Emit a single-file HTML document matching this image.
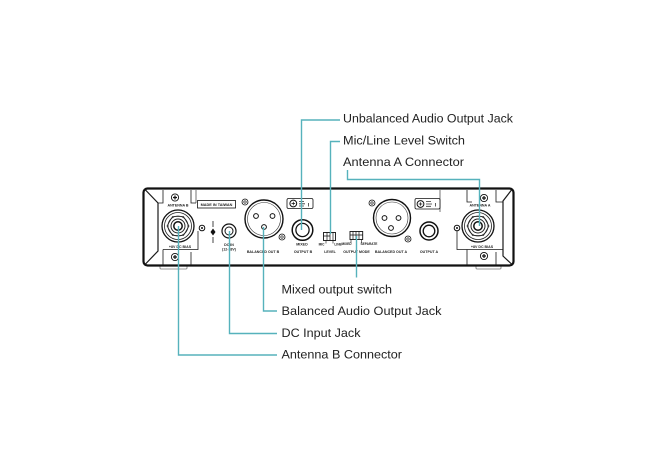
<!DOCTYPE html>
<html><head><meta charset="utf-8"><style>
html,body{margin:0;padding:0;background:#fff;}
svg{display:block;}
.t{font-family:"Liberation Sans",Arial,sans-serif;font-size:12.3px;fill:#222;}
.s{font-family:"Liberation Sans",Arial,sans-serif;font-size:3.6px;font-weight:bold;fill:#222;text-anchor:middle;}
.ld{fill:none;stroke:#56b2bc;stroke-width:1.4;}
.k{fill:none;stroke:#1a1a1a;}
</style></head><body>
<svg width="670" height="453" viewBox="0 0 670 453" xmlns="http://www.w3.org/2000/svg">
<rect width="670" height="453" fill="#fff"/>

<!-- feet -->
<rect x="160" y="265" width="27" height="4" rx="1" fill="#fff" stroke="#777" stroke-width="0.8"/>
<rect x="476" y="265" width="25" height="4" rx="1" fill="#fff" stroke="#777" stroke-width="0.8"/>

<!-- body -->
<rect x="143.5" y="188.5" width="370" height="77" rx="4" fill="#fff" stroke="#111" stroke-width="2.2"/>
<!-- end caps -->
<polyline class="k" stroke-width="1.2" points="145.5,190 158,203 158,251 145.5,264"/>
<polyline class="k" stroke-width="1.2" points="511.5,190 503,201 503,256 511.5,264"/>

<!-- left antenna bracket -->
<path class="k" stroke-width="0.8" d="M158,203 H163 V190 M191,190 V203 H196 M163,249.5 V265 M191,252 V265 M163,249.5 H198 V231"/>
<!-- right antenna bracket -->
<path class="k" stroke-width="0.8" d="M467,190 V202 H472 M496,190 V202 H503 M457,231 V249.5 H503 M467,249.5 V265 M496,252 V265"/>
<!-- middle panel faint lines -->
<path class="k" stroke-width="0.6" stroke="#555" d="M196,203 V190 M440,212 V190"/>

<!-- antenna B -->
<g transform="translate(178,226)">
<circle r="16" fill="#fff" stroke="#111" stroke-width="1.3"/>
<circle r="13.5" fill="none" stroke="#222" stroke-width="0.8"/>
<polygon points="11,0 5.5,9.5 -5.5,9.5 -11,0 -5.5,-9.5 5.5,-9.5" fill="none" stroke="#333" stroke-width="0.8"/>
<circle r="10" fill="none" stroke="#222" stroke-width="0.8"/>
<circle r="7" fill="none" stroke="#222" stroke-width="1"/>
<circle r="4.2" fill="#fff" stroke="#111" stroke-width="1.5"/>
</g>
<!-- antenna A -->
<g transform="translate(478,226)">
<circle r="16" fill="#fff" stroke="#111" stroke-width="1.3"/>
<circle r="13.5" fill="none" stroke="#222" stroke-width="0.8"/>
<polygon points="11,0 5.5,9.5 -5.5,9.5 -11,0 -5.5,-9.5 5.5,-9.5" fill="none" stroke="#333" stroke-width="0.8"/>
<circle r="10" fill="none" stroke="#222" stroke-width="0.8"/>
<circle r="7" fill="none" stroke="#222" stroke-width="1"/>
<circle r="4.2" fill="#fff" stroke="#111" stroke-width="1.5"/>
</g>

<!-- screws -->
<g stroke="#111" fill="#fff">
<g transform="translate(175,197.5)"><circle r="3.6" stroke-width="0.9"/><path d="M-2,0H2M0,-2V2" stroke-width="1.2"/></g>
<g transform="translate(175,257)"><circle r="3.6" stroke-width="0.9"/><path d="M-2,0H2M0,-2V2" stroke-width="1.2"/></g>
<g transform="translate(484,198)"><circle r="3.6" stroke-width="0.9"/><path d="M-2,0H2M0,-2V2" stroke-width="1.2"/></g>
<g transform="translate(484,256)"><circle r="3.6" stroke-width="0.9"/><path d="M-2,0H2M0,-2V2" stroke-width="1.2"/></g>
<g transform="translate(245,202)"><circle r="3" stroke-width="0.8"/><circle r="1.2" stroke-width="0.7"/></g>
<g transform="translate(282,237)"><circle r="3" stroke-width="0.8"/><circle r="1.2" stroke-width="0.7"/></g>
<g transform="translate(372,203)"><circle r="3" stroke-width="0.8"/><circle r="1.2" stroke-width="0.7"/></g>
<g transform="translate(408,239)"><circle r="3" stroke-width="0.8"/><circle r="1.2" stroke-width="0.7"/></g>
</g>

<!-- small jacks near antennas -->
<circle cx="202" cy="228" r="2.8" fill="#fff" stroke="#111" stroke-width="1"/>
<circle cx="202" cy="228" r="1" fill="#111"/>
<circle cx="457" cy="228" r="2.8" fill="#fff" stroke="#111" stroke-width="1"/>
<circle cx="457" cy="228" r="1" fill="#111"/>

<!-- indicator -->
<path class="k" stroke-width="0.8" d="M213,221 V227 M213,237 V243"/>
<path d="M213,228.5 L215.5,232 L213,235.5 L210.5,232 Z" fill="#111"/>

<!-- MADE IN TAIWAN -->
<rect x="197.5" y="200.5" width="38" height="7.5" fill="#fff" stroke="#111" stroke-width="0.8"/>
<text class="s" x="216.5" y="205.8" style="font-size:3.8px">MADE IN TAIWAN</text>

<!-- DC IN -->
<circle cx="229" cy="231" r="7" fill="#fff" stroke="#111" stroke-width="1.2"/>
<circle cx="229" cy="231" r="4" fill="#fff" stroke="#111" stroke-width="1"/>
<text class="s" x="229" y="246">DC IN</text>
<text class="s" x="229" y="250.5">(12-18V)</text>

<!-- XLR B -->
<circle cx="264" cy="219" r="19" fill="#fff" stroke="#111" stroke-width="1.4"/>
<circle cx="264" cy="219" r="16.5" fill="none" stroke="#333" stroke-width="0.6"/>
<circle cx="256" cy="216" r="2.4" fill="#fff" stroke="#111" stroke-width="1"/>
<circle cx="272.5" cy="216" r="2.4" fill="#fff" stroke="#111" stroke-width="1"/>
<circle cx="264" cy="227" r="2.4" fill="#fff" stroke="#111" stroke-width="1"/>
<text class="s" x="263" y="253">BALANCED OUT B</text>

<!-- knob box B -->
<rect x="287" y="198.5" width="26" height="10" rx="1.5" fill="#fff" stroke="#111" stroke-width="0.8"/>
<circle cx="293.3" cy="203.5" r="3.4" fill="#fff" stroke="#111" stroke-width="1"/>
<path d="M291.5,203.5h3.6M293.3,201.7v3.6" stroke="#111" stroke-width="0.7"/>
<path d="M299,201.5h5M299,203.8h6M299,206h5" stroke="#333" stroke-width="0.8"/>
<path d="M308.5,203v3.5" stroke="#333" stroke-width="0.8"/>

<!-- Output B jack -->
<circle cx="302.5" cy="230" r="10.3" fill="#fff" stroke="#111" stroke-width="1.5"/>
<circle cx="302.5" cy="230" r="6.6" fill="#fff" stroke="#111" stroke-width="1.3"/>
<text class="s" x="302" y="245.5">MIXED</text>
<text class="s" x="303" y="253">OUTPUT B</text>

<!-- Level switch -->
<rect x="323.5" y="232.5" width="12" height="8" fill="#fff" stroke="#111" stroke-width="0.9"/>
<path d="M327,232.5V240.5M330,232.5V240.5M333,232.5V240.5M323.5,236H330" stroke="#111" stroke-width="0.7"/>
<path d="M326,240.5V243.5M333,240.5V243.5" stroke="#111" stroke-width="0.6"/>
<text class="s" x="321.5" y="245.5" style="font-size:3.2px">MIC</text>
<text class="s" x="338" y="245.5" style="font-size:3.2px">LINE</text>
<text class="s" x="330" y="253">LEVEL</text>

<!-- Output mode switch -->
<rect x="350" y="231.5" width="12.7" height="8" fill="#fff" stroke="#111" stroke-width="0.9"/>
<path d="M353,231.5V239.5M356,231.5V239.5M359,231.5V239.5M350,235H362.7" stroke="#111" stroke-width="0.7"/>
<path d="M351,239.5V243M361.5,239.5V243" stroke="#111" stroke-width="0.6"/>
<text class="s" x="346.5" y="245" style="font-size:3.2px">MIXED</text>
<text class="s" x="369" y="245" style="font-size:3.2px">SEPARATE</text>
<text class="s" x="356.5" y="253">OUTPUT MODE</text>

<!-- XLR A -->
<circle cx="392" cy="218" r="18.5" fill="#fff" stroke="#111" stroke-width="1.4"/>
<circle cx="392" cy="218" r="16" fill="none" stroke="#333" stroke-width="0.6"/>
<circle cx="384.5" cy="218" r="2.4" fill="#fff" stroke="#111" stroke-width="1"/>
<circle cx="398.5" cy="218" r="2.4" fill="#fff" stroke="#111" stroke-width="1"/>
<circle cx="391" cy="228" r="2.4" fill="#fff" stroke="#111" stroke-width="1"/>
<text class="s" x="391" y="253">BALANCED OUT A</text>

<!-- knob box A -->
<rect x="415" y="198.5" width="25" height="10.5" rx="1.5" fill="#fff" stroke="#111" stroke-width="0.8"/>
<circle cx="420.5" cy="204" r="3.4" fill="#fff" stroke="#111" stroke-width="1"/>
<path d="M418.7,204h3.6M420.5,202.2v3.6" stroke="#111" stroke-width="0.7"/>
<path d="M426,201.5h5M426,204h6M426,206.3h5" stroke="#333" stroke-width="0.8"/>
<path d="M435.5,203v3.5" stroke="#333" stroke-width="0.8"/>

<!-- Output A jack -->
<circle cx="429" cy="231" r="9" fill="#fff" stroke="#111" stroke-width="1.5"/>
<circle cx="429" cy="231" r="5.8" fill="#fff" stroke="#111" stroke-width="1.3"/>
<text class="s" x="429" y="253">OUTPUT A</text>

<!-- antenna labels -->
<text class="s" x="178" y="206.5">ANTENNA B</text>
<text class="s" x="480" y="206.5">ANTENNA A</text>
<text class="s" x="180" y="248">+8V DC BIAS</text>
<text class="s" x="482" y="248">+8V DC BIAS</text>

<!-- leaders -->
<path class="ld" d="M301.5,230 V120 H340"/>
<path class="ld" d="M330.5,234 V141.5 H340"/>
<path class="ld" d="M347.5,170 V179.5 H479.5 V226"/>
<path class="ld" d="M356.5,236 V277.5"/>
<path class="ld" d="M263.5,227 V311 H277"/>
<path class="ld" d="M229.5,231 V333.5 H277"/>
<path class="ld" d="M178.5,226 V355 H277"/>

<!-- labels -->
<text class="t" x="343" y="122.5" textLength="170" lengthAdjust="spacingAndGlyphs">Unbalanced Audio Output Jack</text>
<text class="t" x="343" y="144.5" textLength="122" lengthAdjust="spacingAndGlyphs">Mic/Line Level Switch</text>
<text class="t" x="343" y="166" textLength="121" lengthAdjust="spacingAndGlyphs">Antenna A Connector</text>
<text class="t" x="281.5" y="293.5" textLength="110.5" lengthAdjust="spacingAndGlyphs">Mixed output switch</text>
<text class="t" x="281.5" y="315.2" textLength="160" lengthAdjust="spacingAndGlyphs">Balanced Audio Output Jack</text>
<text class="t" x="281.5" y="336.8" textLength="79" lengthAdjust="spacingAndGlyphs">DC Input Jack</text>
<text class="t" x="281.5" y="358.5" textLength="120.5" lengthAdjust="spacingAndGlyphs">Antenna B Connector</text>
</svg>
</body></html>
